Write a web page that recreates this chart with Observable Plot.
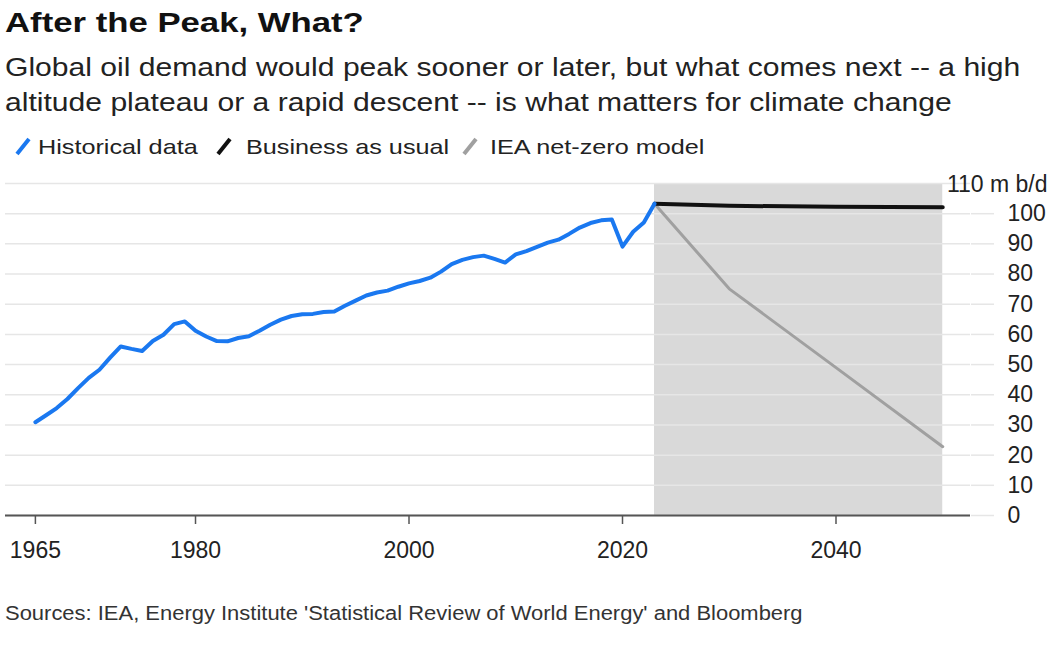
<!DOCTYPE html>
<html><head><meta charset="utf-8">
<script src="https://cdn.jsdelivr.net/npm/d3@7"></script>
<script src="https://cdn.jsdelivr.net/npm/@observablehq/plot@0.6"></script>
<style>
body{margin:0;background:#fff;font-family:"Liberation Sans",Arial,sans-serif;width:1060px;height:646px;position:relative;overflow:hidden;color:#222}
.sx{transform-origin:0 50%;white-space:nowrap}
#title{position:absolute;left:5px;top:9px;font-weight:bold;font-size:28px;line-height:28px;color:#111;transform:scaleX(1.24)}
#subtitle{position:absolute;left:5px;top:50px;font-size:25.5px;line-height:35px;color:#222;transform:scaleX(1.18)}
#legend{position:absolute;left:0;top:135px;width:1060px;height:24px;font-size:21px;line-height:21px;color:#222}
#legend .mk{position:absolute;top:1px}
#legend .tx{position:absolute;top:1px;transform:scaleX(1.2)}
#chart{position:absolute;left:0;top:170px}
#source{position:absolute;left:5px;top:603px;font-size:19.5px;line-height:20px;color:#333;transform:scaleX(1.126)}
</style></head>
<body>
<div id="title" class="sx">After the Peak, What?</div>
<div id="subtitle" class="sx">Global oil demand would peak sooner or later, but what comes next -- a high<br>altitude plateau or a rapid descent -- is what matters for climate change</div>
<div id="legend"></div>
<div id="chart"></div>
<div id="source" class="sx">Sources: IEA, Energy Institute 'Statistical Review of World Energy' and Bloomberg</div>
<script>
// Historical global oil demand, million barrels per day
const histYears = [1965,1966,1967,1968,1969,1970,1971,1972,1973,1974,1975,1976,1977,1978,1979,1980,1981,1982,1983,1984,1985,1986,1987,1988,1989,1990,1991,1992,1993,1994,1995,1996,1997,1998,1999,2000,2001,2002,2003,2004,2005,2006,2007,2008,2009,2010,2011,2012,2013,2014,2015,2016,2017,2018,2019,2020,2021,2022,2023];
const histValues = [30.9,33.2,35.6,38.6,42.2,45.6,48.3,52.3,56.0,55.2,54.5,57.8,59.9,63.4,64.3,61.2,59.3,57.8,57.7,58.8,59.4,61.2,63.2,64.9,66.1,66.7,66.8,67.4,67.6,69.5,71.2,72.9,73.9,74.5,75.8,76.9,77.7,78.8,80.8,83.3,84.7,85.6,86.1,85.0,83.8,86.5,87.6,89.0,90.4,91.4,93.3,95.4,96.9,97.8,98.1,89.1,94.0,97.1,103.3];
// Projections
const projYears = [2023,2030,2040,2050];
const bauValues = [103.3,102.6,102.3,102.1];
const nzeValues = [103.3,75.1,49.0,22.8];
// Axis ticks
const xTicks = [1965,1980,2000,2020,2040];
const yTicks = [0,10,20,30,40,50,60,70,80,90,100];
const gridTicks = [0,10,20,30,40,50,60,70,80,90,100,110];
const shadeSpan = [{x1:2023,x2:2050,y1:0,y2:110}];
const unitLabel = [{y:110,label:"110 m b/d"}];

const series = [
  {name:"Historical data", color:"#1a78f0"},
  {name:"Business as usual", color:"#111111"},
  {name:"IEA net-zero model", color:"#a0a0a0"}
];
// legend layout (pixel positions of marker and label)
const legendMarkerX = [15,216,462];
const legendTextX = [38,246,490];

const hist = histYears.map((y,i)=>({year:y,value:histValues[i]}));
const bau = projYears.map((y,i)=>({year:y,value:bauValues[i]}));
const nze = projYears.map((y,i)=>({year:y,value:nzeValues[i]}));

// Legend
const leg = document.getElementById("legend");
series.forEach((s,i)=>{
  const m = document.createElement("div"); m.className="mk"; m.style.left=legendMarkerX[i]+"px";
  m.innerHTML = `<svg width="16" height="20"><line x1="2" y1="18" x2="14" y2="3" stroke="${s.color}" stroke-width="4"/></svg>`;
  const t = document.createElement("div"); t.className="tx sx"; t.style.left=legendTextX[i]+"px"; t.textContent=s.name;
  leg.appendChild(m); leg.appendChild(t);
});

const chart = Plot.plot({
  width:1060, height:400,
  marginLeft:5, marginRight:90, marginTop:13, marginBottom:55,
  style:{fontFamily:'"Liberation Sans",Arial,sans-serif', fontSize:"23px", color:"#222", background:"transparent", overflow:"visible"},
  x:{domain:[1962.2,2052.6]},
  y:{domain:[0,110]},
  marks:[
    Plot.rect(shadeSpan,{x1:"x1",x2:"x2",y1:"y1",y2:"y2",fill:"#d9d9d9"}),
    Plot.gridY(gridTicks,{stroke:"#e6e6e6",strokeOpacity:1,strokeWidth:1.5}),
    Plot.axisY(yTicks,{anchor:"right",tickSize:23,tickPadding:14,textAnchor:"start",stroke:"#e6e6e6",strokeWidth:1.5,fill:"#222",label:null}),
    Plot.text(unitLabel,{y:"y",text:"label",frameAnchor:"right",dx:77,textAnchor:"end",dy:1,fill:"#222",fontSize:23}),
    Plot.ruleY([0],{stroke:"#555",strokeWidth:2}),
    Plot.axisX(xTicks,{tickSize:9,tickPadding:17,stroke:"#555",strokeWidth:1.5,tickFormat:d=>String(d),fill:"#222",label:null}),
    Plot.line(nze,{x:"year",y:"value",stroke:series[2].color,strokeWidth:3}),
    Plot.line(bau,{x:"year",y:"value",stroke:series[1].color,strokeWidth:4}),
    Plot.line(hist,{x:"year",y:"value",stroke:series[0].color,strokeWidth:4,strokeLinejoin:"round"})
  ]
});
document.getElementById("chart").appendChild(chart);
</script>
</body></html>
